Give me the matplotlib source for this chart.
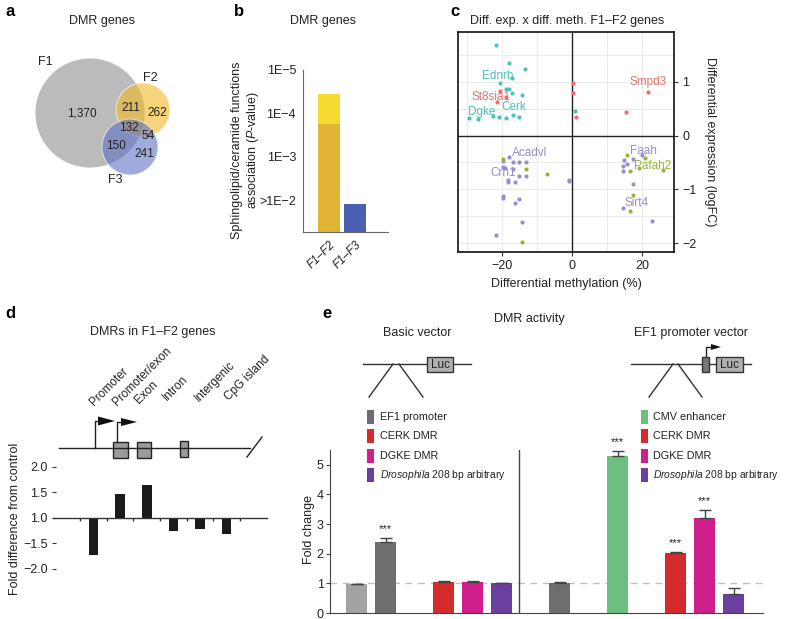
import numpy as np
import matplotlib
matplotlib.use('Agg')
import matplotlib.pyplot as plt
from matplotlib.patches import Circle, Rectangle, Polygon

plt.rcParams['font.family'] = ['Liberation Sans', 'DejaVu Sans']
plt.rcParams['mathtext.fontset'] = 'custom'
plt.rcParams['mathtext.it'] = 'Liberation Sans:italic'
plt.rcParams['mathtext.rm'] = 'Liberation Sans'

# ---- data ----
# a: Venn counts
venn_counts = {'F1': 1370, 'F2': 262, 'F3': 241, 'F1F2': 211, 'F1F3': 150,
               'F2F3': 54, 'F1F2F3': 132}

# b: sphingolipid/ceramide association P-values
b_groups = ['F1–F2', 'F1–F3']
b_pval_top = [3.5e-5, 1.2e-2]
b_pval_split = 1.8e-4          # lower (darker) part of the F1–F2 bar

# c: diff. expression x diff. methylation
c_cyan_x = [-21.8, -18.1, -13.5, -17.3, -20.8, -18.9, -18.1, -17.3, -14.5, -29.7, -27.1,
            -22.6, -20.9, -18.9, -17.0, -15.4, 0.8]
c_cyan_y = [1.68, 1.34, 1.24, 1.06, 0.98, 0.86, 0.87, 0.79, 0.75, 0.32, 0.30,
            0.36, 0.35, 0.33, 0.38, 0.35, 0.46]
c_red_x = [-20.8, -21.6, -18.9, 0.1, 0.1, 1.0, 21.7, 15.3]
c_red_y = [0.82, 0.63, 0.71, 0.98, 0.79, 0.34, 0.81, 0.44]
c_purple_x = [-18.0, -19.9, -17.0, -15.4, -13.4, -19.9, -19.2, -17.0, -15.4, -13.4,
              -18.3, -18.3, -16.4, -19.9, -19.9, -15.4, -16.3, -14.5, -21.8, -0.9, -0.9,
              14.6, 17.2, 14.3, 14.3, 15.5, 19.8, 17.2, 14.3, 22.7]
c_purple_y = [-0.39, -0.47, -0.49, -0.49, -0.49, -0.58, -0.60, -0.63, -0.75, -0.75,
              -0.83, -0.87, -0.86, -1.12, -1.16, -1.17, -1.26, -1.61, -1.84, -0.82, -0.85,
              -0.45, -0.44, -0.56, -0.65, -0.52, -0.36, -0.90, -1.35, -1.58]
c_green_x = [-19.9, -13.4, -7.3, -14.5, 15.5, 16.3, 19.1, 20.8, 26.0, 17.2, 16.3]
c_green_y = [-0.44, -0.63, -0.72, -1.98, -0.36, -0.65, -0.61, -0.42, -0.64, -1.10, -1.40]
c_genes = ['Ednrb', 'St8sia1', 'Dgke', 'Cerk', 'Smpd3', 'Acadvl', 'Crn1', 'Faah', 'Pafah2', 'Sirt4']
c_gene_x = [-21.3, -23.3, -25.9, -16.9, 21.6, -12.3, -19.8, 20.2, 23.0, 18.4]
c_gene_y = [1.11, 0.72, 0.43, 0.52, 0.99, -0.32, -0.69, -0.28, -0.56, -1.26]
c_gene_col = ['cyan', 'red', 'cyan', 'cyan', 'red', 'purple', 'purple', 'purple', 'green', 'purple']

# d: DMR location fold differences
d_regions = ['Promoter', 'Promoter/exon', 'Exon', 'Intron', 'Intergenic', 'CpG island']
d_fold = [-1.72, 1.48, 1.64, -1.25, -1.22, -1.31]

# e: DMR activity (luciferase fold change)
e_basic_names = ['control', 'EF1 promoter', 'CERK DMR', 'DGKE DMR', 'Drosophila']
e_basic_vals = [0.97, 2.40, 1.04, 1.05, 1.00]
e_basic_err = [0.02, 0.13, 0.03, 0.03, 0.02]
e_basic_sig = ['', '***', '', '', '']
e_ef1_names = ['control', 'CMV enhancer', 'CERK DMR', 'DGKE DMR', 'Drosophila']
e_ef1_vals = [1.00, 5.30, 2.02, 3.22, 0.65]
e_ef1_err = [0.03, 0.17, 0.05, 0.27, 0.18]
e_ef1_sig = ['', '***', '***', '***', '']

W, H = 786, 619
fig = plt.figure(figsize=(W / 100, H / 100), dpi=100)


def px_axes(x0, y0, x1, y1):
    return fig.add_axes([x0 / W, 1 - y1 / H, (x1 - x0) / W, (y1 - y0) / H])


ov = fig.add_axes([0, 0, 1, 1])
ov.set_xlim(0, W)
ov.set_ylim(H, 0)
ov.axis('off')
ov.set_zorder(5)

TXT = '#222222'
for lab, x, y in [('a', 5, 11), ('b', 234, 11), ('c', 450, 11), ('d', 5, 313), ('e', 322, 313)]:
    ov.text(x, y, lab, fontsize=12, fontweight='bold', ha='left', va='center')

# ---- a: Venn ----
ov.text(102, 21, 'DMR genes', fontsize=9, ha='center', va='center', color=TXT)
ov.add_patch(Circle((90, 113), 55, fc='#a8a8a8', alpha=0.78, ec='white', lw=0.8))
ov.add_patch(Circle((143, 110), 27, fc='#f0ba2a', alpha=0.62, ec='white', lw=0.8))
ov.add_patch(Circle((130, 147), 28, fc='#5b6fc5', alpha=0.58, ec='white', lw=0.8))
ov.text(45, 62, 'F1', fontsize=9, ha='center', va='center', color=TXT)
ov.text(150, 78, 'F2', fontsize=9, ha='center', va='center', color=TXT)
ov.text(115, 180, 'F3', fontsize=9, ha='center', va='center', color=TXT)
venn_pos = {'F1': (82, 113), 'F1F2': (131, 108), 'F2': (157, 113), 'F1F2F3': (129, 128),
            'F2F3': (148, 136), 'F1F3': (116, 146), 'F3': (144, 154)}
for k, (x, y) in venn_pos.items():
    ov.text(x, y, f'{venn_counts[k]:,}', fontsize=8.5, ha='center', va='center', color=TXT)

# ---- b: P-value bars ----
ov.text(323, 21, 'DMR genes', fontsize=9, ha='center', va='center', color=TXT)
axb = px_axes(303, 70, 388, 232)
ymin = 1.264
s_top = -np.log10(b_pval_top)
s_split = -np.log10(b_pval_split)
axb.bar(0, s_split - ymin, bottom=ymin, width=0.85, color='#e0b434')
axb.bar(0, s_top[0] - s_split, bottom=s_split, width=0.85, color='#f6d92e')
axb.bar(1, s_top[1] - ymin, bottom=ymin, width=0.85, color='#4b5fb3')
axb.set_xlim(-1.0, 2.27)
axb.set_ylim(ymin, 5.0)
axb.set_yticks([2, 3, 4, 5])
axb.set_yticklabels(['>1E−2', '1E−3', '1E−4', '1E−5'], fontsize=9, color=TXT)
axb.set_xticks([0, 1])
axb.set_xticklabels(b_groups, fontsize=8.5, style='italic', rotation=45,
                    ha='right', rotation_mode='anchor', color=TXT)
axb.tick_params(length=0, pad=5)
for s in ['top', 'right']:
    axb.spines[s].set_visible(False)
for s in ['left', 'bottom']:
    axb.spines[s].set_color('#666666')
ov.text(246, 150, 'Sphingolipid/ceramide functions\nassociation ($P$-value)', fontsize=9,
        rotation=90, ha='center', va='center', color=TXT, linespacing=1.1)

# ---- c: scatter ----
ov.text(567, 21, 'Diff. exp. x diff. meth. F1–F2 genes', fontsize=9, ha='center',
        va='center', color=TXT)
axc = px_axes(458, 32, 674, 252)
cols = {'cyan': '#4fbfbf', 'red': '#e8706a', 'purple': '#9b8ccc', 'green': '#93b83a'}
for gx in [-30, -20, -10, 10, 20]:
    axc.axvline(gx, color='#ebebeb', lw=0.8, zorder=0)
for gy in [-2, -1.5, -1, -0.5, 0.5, 1, 1.5]:
    axc.axhline(gy, color='#ebebeb', lw=0.8, zorder=0)
axc.axvline(0, color='#222222', lw=1, zorder=1)
axc.axhline(0, color='#222222', lw=1, zorder=1)
axc.scatter(c_cyan_x, c_cyan_y, s=9, color=cols['cyan'], lw=0, zorder=3)
axc.scatter(c_red_x, c_red_y, s=9, color=cols['red'], lw=0, zorder=3)
axc.scatter(c_purple_x, c_purple_y, s=9, color=cols['purple'], lw=0, zorder=3)
axc.scatter(c_green_x, c_green_y, s=9, color=cols['green'], lw=0, zorder=3)
for g, x, y, c in zip(c_genes, c_gene_x, c_gene_y, c_gene_col):
    axc.text(x, y, g, fontsize=8.5, color=cols[c], ha='center', va='center', zorder=4)
axc.set_xlim(-32.7, 29.0)
axc.set_ylim(-2.16, 1.92)
axc.yaxis.tick_right()
axc.set_yticks([1, 0, -1, -2])
axc.set_yticklabels(['1', '0', '−1', '−2'], fontsize=9, color=TXT)
axc.set_xticks([-20, 0, 20])
axc.set_xticklabels(['−20', '0', '20'], fontsize=9, color=TXT)
axc.tick_params(length=3, color='#333333', pad=3)
for s in axc.spines.values():
    s.set_color('#111111')
    s.set_linewidth(1.2)
ov.text(566, 284, 'Differential methylation (%)', fontsize=9, ha='center', va='center', color=TXT)
ov.text(710, 142, 'Differential expression (logFC)', fontsize=9, rotation=270,
        ha='center', va='center', color=TXT)

# ---- d: DMR locations ----
ov.text(153, 332, 'DMRs in F1–F2 genes', fontsize=9, ha='center', va='center', color=TXT)
ov.plot([59, 250], [448, 448], color='#222222', lw=1)
ov.plot([247, 262], [457, 437], color='#222222', lw=1)
for x0, x1, y0, y1 in [(113, 128, 442, 458), (137, 151, 442, 458), (180, 188, 441, 457)]:
    ov.add_patch(Rectangle((x0, y0), x1 - x0, y1 - y0, fc='#9a9a9a', ec='#222222', lw=1))
ov.plot([95, 95, 99], [448, 421, 421], color='#222222', lw=1)
ov.add_patch(Polygon([(98, 416.5), (98, 425.5), (115, 421)], closed=True, fc='#111111', ec='none'))
ov.plot([117, 117, 122], [442, 422, 422], color='#222222', lw=1)
ov.add_patch(Polygon([(121, 418), (121, 426), (137, 422)], closed=True, fc='#111111', ec='none'))
for name, x, y in zip(d_regions, [94, 117, 139, 167, 199, 229], [406, 406, 404, 401, 402, 401]):
    ov.text(x, y, name, fontsize=8.5, rotation=45, rotation_mode='anchor',
            ha='left', va='baseline', color=TXT)

axd = px_axes(56, 460, 267, 575)
d_pos = np.arange(1, len(d_fold) + 1)
d_v = [f - 1 if f > 0 else f + 1 for f in d_fold]
axd.bar(d_pos, d_v, width=0.36, color='#1a1a1a')
axd.plot([-0.52, 7.52], [0, 0], color='#333333', lw=1, clip_on=False)
axd.vlines(np.arange(0.5, 7), -0.06, 0, color='#333333', lw=1)
axd.set_xlim(-0.41, 7.52)
axd.set_ylim(-1.118, 1.137)
axd.set_yticks([1, 0.5, 0, -0.5, -1])
axd.set_yticklabels(['2.0', '1.5', '1.0', '−1.5', '−2.0'], fontsize=9, color=TXT)
axd.set_xticks([])
axd.tick_params(axis='y', length=3, color='#333333', pad=3)
for s in axd.spines.values():
    s.set_visible(False)
axd.patch.set_visible(False)
ov.text(15, 519, 'Fold difference from control', fontsize=9, rotation=90,
        ha='center', va='center', color=TXT)

# ---- e: DMR activity ----
ov.text(529, 319, 'DMR activity', fontsize=9, ha='center', va='center', color=TXT)
ov.text(417, 333, 'Basic vector', fontsize=9, ha='center', va='center', color=TXT)
ov.text(691, 333, 'EF1 promoter vector', fontsize=9, ha='center', va='center', color=TXT)
# basic vector diagram
ov.plot([363, 471], [364, 364], color='#333333', lw=1)
ov.plot([393, 369], [364, 397], color='#333333', lw=1)
ov.plot([399, 423], [364, 397], color='#333333', lw=1)
ov.add_patch(Rectangle((427, 357), 26, 15, fc='#b0b0b0', ec='#333333', lw=1, zorder=3))
ov.text(440, 364.5, 'Luc', fontsize=8.5, ha='center', va='center', color=TXT, zorder=4)
# EF1 promoter vector diagram
ov.plot([631, 751], [364, 364], color='#333333', lw=1)
ov.plot([673, 649], [364, 397], color='#333333', lw=1)
ov.plot([678, 702], [364, 397], color='#333333', lw=1)
ov.add_patch(Rectangle((702, 357), 7, 15, fc='#777777', ec='#333333', lw=1, zorder=3))
ov.plot([706, 706, 712], [357, 347, 347], color='#222222', lw=1)
ov.add_patch(Polygon([(711, 344), (711, 350), (721, 347)], closed=True, fc='#111111', ec='none'))
ov.add_patch(Rectangle((716, 357), 27, 15, fc='#b0b0b0', ec='#333333', lw=1, zorder=3))
ov.text(729.5, 364.5, 'Luc', fontsize=8.5, ha='center', va='center', color=TXT, zorder=4)

e_basic_cols = ['#a3a3a3', '#6e6e6e', '#d42b2b', '#cf1f8c', '#6b3f9e']
e_ef1_cols = ['#6e6e6e', '#6bbf7f', '#d42b2b', '#cf1f8c', '#6b3f9e']
leg_rows = [417, 436, 456, 475]
leg_left = ['EF1 promoter', 'CERK DMR', 'DGKE DMR', r'$\mathit{Drosophila}$ 208 bp arbitrary']
leg_right = ['CMV enhancer', 'CERK DMR', 'DGKE DMR', r'$\mathit{Drosophila}$ 208 bp arbitrary']
for i, y in enumerate(leg_rows):
    fs = 7.4 if i == 3 else 7.8
    ov.add_patch(Rectangle((367, y - 7), 7, 14, fc=e_basic_cols[i + 1], ec='none'))
    ov.text(380, y, leg_left[i], fontsize=fs, ha='left', va='center', color=TXT)
    ov.add_patch(Rectangle((641, y - 7), 7, 14, fc=e_ef1_cols[i + 1], ec='none'))
    ov.text(653, y, leg_right[i], fontsize=fs, ha='left', va='center', color=TXT)

axe = px_axes(330, 450, 763, 613)
slots = [0, 1, 3, 4, 5, 7, 9, 11, 12, 13]
vals = e_basic_vals + e_ef1_vals
errs = e_basic_err + e_ef1_err
sigs = e_basic_sig + e_ef1_sig
colors = e_basic_cols + e_ef1_cols
axe.axhline(1, color='#c0c0c0', lw=1, ls=(0, (5, 4)), zorder=0)
axe.bar(slots, vals, width=0.7, color=colors, zorder=2)
axe.errorbar(slots, vals, yerr=[np.zeros(len(errs)), errs], fmt='none',
             ecolor='#444444', elinewidth=1, capsize=4, capthick=1, zorder=3)
for x, v, e, s in zip(slots, vals, errs, sigs):
    if s:
        axe.text(x, v + e + 0.12, s, fontsize=8, ha='center', va='bottom', color=TXT)
axe.axvline(5.6, color='#444444', lw=1)
axe.set_xlim(-0.914, 14.017)
axe.set_ylim(0, 5.5)
axe.set_yticks(range(6))
axe.set_yticklabels([str(i) for i in range(6)], fontsize=9, color=TXT)
axe.set_xticks([])
axe.tick_params(axis='y', length=3, color='#444444', pad=1.5)
for s in ['top', 'right']:
    axe.spines[s].set_visible(False)
for s in ['left', 'bottom']:
    axe.spines[s].set_color('#444444')
axe.patch.set_visible(False)
ov.text(309, 530, 'Fold change', fontsize=9, rotation=90, ha='center', va='center', color=TXT)

fig.savefig('out.png', dpi=100)
